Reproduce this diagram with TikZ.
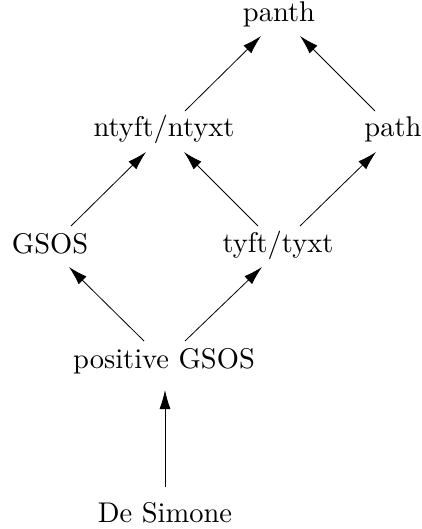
\documentclass[tikz,border=0pt]{standalone}
\usetikzlibrary{arrows.meta,calc}
\font\diagfont="[lmroman10-regular.otf]" at 28.5pt
\begin{document}
\begin{tikzpicture}[x=1pt,y=-1pt,
  lbl/.style={anchor=base,inner sep=0pt,font=\diagfont},
  arr/.style={line width=0.8pt,-{Latex[length=19pt,width=11pt]}}]
\useasboundingbox (0,0) rectangle (422,529);
\node[lbl] (panth) at (279,22) {panth};
\node[lbl] (ntyft) at (164,137) {ntyft/ntyxt};
\node[lbl] (path) at (393,137) {path};
\node[lbl] (gsos) at (50,253) {GSOS};
\node[lbl] (tyft) at (278,252) {tyft/tyxt};
\node[lbl] (pos) at (164,368) {positive GSOS};
\node[lbl] (desim) at (165,522) {De Simone};
\draw[arr] ($(ntyft.base)+(21,-26)$) -- ($(panth.base)+(-18,14)$);
\draw[arr] ($(path.base)+(-18,-26)$) -- ($(panth.base)+(21,14)$);
\draw[arr] ($(gsos.base)+(21,-27)$) -- ($(ntyft.base)+(-18,15)$);
\draw[arr] ($(tyft.base)+(-20,-26)$) -- ($(ntyft.base)+(20,15)$);
\draw[arr] ($(tyft.base)+(22,-26)$) -- ($(path.base)+(-17,15)$);
\draw[arr] ($(pos.base)+(-20,-27)$) -- ($(gsos.base)+(19,14)$);
\draw[arr] ($(pos.base)+(21,-27)$) -- ($(tyft.base)+(-16,15)$);
\draw[arr] ($(desim.base)+(0,-35)$) -- ($(pos.base)+(1,22)$);
\end{tikzpicture}
\end{document}
